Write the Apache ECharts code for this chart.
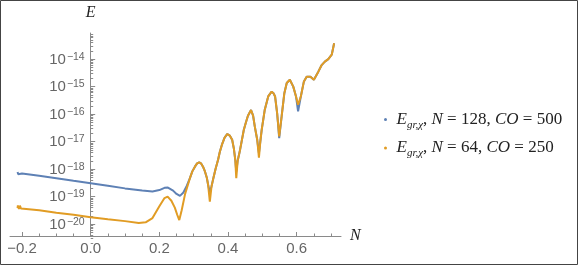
<!DOCTYPE html>
<html><head><meta charset="utf-8">
<script src="https://cdn.jsdelivr.net/npm/echarts@6/dist/echarts.min.js"></script>
<style>html,body{margin:0;padding:0;background:#fff}#c{width:578px;height:265px}</style>
</head><body><div id="c"></div>
<script>
// ---- data ----
const xBluePre   = [-0.213, -0.211, -0.209, -0.2, -0.15, -0.1, -0.05, 0, 0.05, 0.1, 0.15, 0.18, 0.2, 0.215, 0.225, 0.24, 0.25, 0.26, 0.27, 0.28];
const eBluePre   = [7.9e-19, 6.5e-19, 7.6e-19, 6.9e-19, 5.8e-19, 4.7e-19, 3.8e-19, 3.1e-19, 2.5e-19, 2.0e-19, 1.66e-19, 1.55e-19, 1.74e-19, 2.1e-19, 2.14e-19, 1.66e-19, 1.26e-19, 1.07e-19, 1.41e-19, 2.5e-19];
const xOrangePre = [-0.213, -0.212, -0.209, -0.206, -0.203, -0.2, -0.15, -0.1, -0.05, 0, 0.05, 0.1, 0.14, 0.16, 0.18, 0.2, 0.215, 0.224, 0.235, 0.245, 0.252, 0.258, 0.265, 0.275];
const eOrangePre = [3.8e-20, 4.8e-20, 3.6e-20, 4.7e-20, 3.7e-20, 3.8e-20, 3.2e-20, 2.6e-20, 2.2e-20, 1.78e-20, 1.51e-20, 1.29e-20, 1.1e-20, 1.17e-20, 1.66e-20, 4.5e-20, 8.9e-20, 1.0e-19, 7.1e-20, 4.0e-20, 2.2e-20, 1.41e-20, 3.2e-20, 1.26e-19];
const xMain      = [0.289, 0.296, 0.304, 0.310, 0.316, 0.322, 0.328, 0.333, 0.338, 0.342, 0.347, 0.352, 0.356, 0.364, 0.371, 0.376, 0.382, 0.390, 0.398, 0.405, 0.412, 0.417, 0.421, 0.424, 0.428, 0.435, 0.446, 0.452, 0.458, 0.467, 0.473, 0.478, 0.485, 0.490, 0.494, 0.498, 0.507, 0.517, 0.527, 0.533, 0.537, 0.543, 0.549, 0.556, 0.564, 0.571, 0.580, 0.590, 0.598, 0.604, 0.612, 0.621, 0.629, 0.633, 0.640, 0.650, 0.663, 0.672, 0.682, 0.692, 0.702, 0.706, 0.709];
const eBlueMain  = [4.7e-19, 8.3e-19, 1.26e-18, 1.62e-18, 1.78e-18, 1.58e-18, 1.17e-18, 8.1e-19, 5.0e-19, 2.7e-19, 1.41e-19, 2.4e-19, 4.0e-19, 1.05e-18, 2.2e-18, 4.2e-18, 7.6e-18, 1.41e-17, 1.9e-17, 1.66e-17, 1.17e-17, 5.6e-18, 2.24e-18, 8.1e-19, 2.0e-18, 5.0e-18, 2.7e-17, 5.0e-17, 8.7e-17, 1.41e-16, 8.9e-17, 3.5e-17, 1.17e-17, 3.8e-18, 1.0e-17, 2.7e-17, 1.45e-16, 4.4e-16, 6.6e-16, 5.6e-16, 4.4e-16, 1.1e-16, 1.35e-17, 8.1e-17, 5.8e-16, 1.35e-15, 1.78e-15, 1.0e-15, 4.4e-16, 1.26e-16, 4.4e-16, 1.55e-15, 2.3e-15, 2.5e-15, 2.3e-15, 1.78e-15, 3.5e-15, 5.9e-15, 8.1e-15, 1.0e-14, 1.45e-14, 2.5e-14, 3.8e-14];
const eOrangeMain= [4.7e-19, 8.3e-19, 1.26e-18, 1.62e-18, 1.78e-18, 1.58e-18, 1.17e-18, 8.1e-19, 5.0e-19, 2.7e-19, 6.6e-20, 2.4e-19, 4.0e-19, 1.05e-18, 2.2e-18, 4.2e-18, 7.6e-18, 1.41e-17, 1.9e-17, 1.66e-17, 1.17e-17, 5.6e-18, 2.24e-18, 4.7e-19, 2.0e-18, 5.0e-18, 2.7e-17, 5.0e-17, 8.7e-17, 1.41e-16, 8.9e-17, 3.5e-17, 1.17e-17, 2.6e-18, 1.0e-17, 2.7e-17, 1.45e-16, 4.4e-16, 6.6e-16, 5.6e-16, 4.4e-16, 1.1e-16, 1.55e-17, 8.1e-17, 5.8e-16, 1.35e-15, 1.78e-15, 1.0e-15, 4.4e-16, 2.2e-16, 4.4e-16, 1.55e-15, 2.3e-15, 2.5e-15, 2.3e-15, 1.78e-15, 3.5e-15, 5.9e-15, 8.1e-15, 1.0e-14, 1.45e-14, 2.5e-14, 3.8e-14];
const xTickLabels = [-0.2, 0, 0.2, 0.4, 0.6];
const xMinorTicks = [-0.15, -0.1, -0.05, 0.05, 0.1, 0.15, 0.25, 0.3, 0.35, 0.45, 0.5, 0.55, 0.65, 0.7];
const yTickLabels = [1e-20, 1e-19, 1e-18, 1e-17, 1e-16, 1e-15, 1e-14];
const seriesNames = ['N128', 'N64'];
const legendTexts = {
  N128: '{i|E}{sub|gr,χ}{r|, }{i|N}{r| = 128, }{i|CO}{r| = 500}',
  N64:  '{i|E}{sub|gr,χ}{r|, }{i|N}{r| = 64, }{i|CO}{r| = 250}'
};
// ---------------------------------------

const yMinorTicks = [];
for (let k = -21; k <= -14; k++) for (let m = 2; m <= 9; m++) yMinorTicks.push(Number((m + 'e' + k)));

function pairs(xs, es) { return xs.map((x, i) => [x, es[i]]); }
const blueData = pairs(xBluePre, eBluePre).concat(pairs(xMain, eBlueMain));
const orangeData = pairs(xOrangePre, eOrangePre).concat(pairs(xMain, eOrangeMain));

const axisGray = '#8a8a8a';
const labelGray = '#666';
const xMin = -0.235, xMax = 0.729;
const yMin = Math.pow(10, -20.43), yMax = Math.pow(10, -13.05);
const gridLeft = 10, gridRight = 237, W = 578;
// shift the y axis so it sits at x = 0 of the x scale
const yAxisOffset = -((0 - xMin) / (xMax - xMin)) * (W - gridLeft - gridRight);

const chart = echarts.init(document.getElementById('c'), null, {renderer: 'canvas'});
chart.setOption({
  animation: false,
  grid: {left: gridLeft, right: gridRight, top: 33, bottom: 29, containLabel: false, outerBoundsMode: 'none'},
  xAxis: [{
    type: 'value', min: xMin, max: xMax, position: 'bottom',
    splitLine: {show: false},
    axisLine: {show: true, onZero: false, lineStyle: {color: axisGray, width: 1}},
    axisTick: {show: true, inside: true, length: 4, customValues: xTickLabels, lineStyle: {color: axisGray}},
    axisLabel: {customValues: xTickLabels, color: labelGray, fontFamily: 'Liberation Sans', fontSize: 15, margin: 5,
      formatter: v => (v < 0 ? '−' : '') + Math.abs(v).toFixed(1)},
    name: 'N', nameLocation: 'end', nameGap: 9,
    nameTextStyle: {fontFamily: 'Liberation Serif', fontStyle: 'italic', fontSize: 16, color: '#222', verticalAlign: 'middle'}
  }, {
    type: 'value', min: xMin, max: xMax, position: 'bottom',
    splitLine: {show: false}, axisLine: {show: false, onZero: false}, axisLabel: {show: false},
    axisTick: {show: true, inside: true, length: 2.5, customValues: xMinorTicks, lineStyle: {color: axisGray}}
  }],
  yAxis: [{
    type: 'log', logBase: 10, min: yMin, max: yMax, position: 'left', offset: yAxisOffset,
    splitLine: {show: false},
    axisLine: {show: true, onZero: false, lineStyle: {color: axisGray, width: 1}},
    axisTick: {show: true, inside: true, length: 4.5, customValues: yTickLabels, lineStyle: {color: axisGray}},
    axisLabel: {customValues: yTickLabels, margin: 6, color: labelGray,
      formatter: v => '{b|10}{s|−' + (-Math.round(Math.log10(v))) + '}',
      rich: {
        b: {fontFamily: 'Liberation Sans', fontSize: 15, color: labelGray, lineHeight: 16, verticalAlign: 'bottom'},
        s: {fontFamily: 'Liberation Sans', fontSize: 10.5, color: labelGray, lineHeight: 10, verticalAlign: 'top', padding: [0, 0, 9, 1]}
      }},
    name: 'E', nameLocation: 'end', nameGap: 12,
    nameTextStyle: {fontFamily: 'Liberation Serif', fontStyle: 'italic', fontSize: 16, color: '#222', align: 'center'}
  }, {
    type: 'log', logBase: 10, min: yMin, max: yMax, position: 'left', offset: yAxisOffset,
    splitLine: {show: false},
    axisLine: {show: false, onZero: false},
    axisLabel: {show: false},
    axisTick: {show: true, inside: true, length: 2.5, customValues: yMinorTicks, lineStyle: {color: axisGray}}
  }],
  legend: {
    orient: 'vertical', left: 379, top: 106, itemGap: 9,
    itemWidth: 12, itemHeight: 3,
    data: [{name: seriesNames[0], icon: 'circle'}, {name: seriesNames[1], icon: 'circle'}],
    formatter: n => legendTexts[n],
    textStyle: {
      color: '#222',
      rich: {
        i: {fontFamily: 'Liberation Serif', fontStyle: 'italic', fontSize: 17, lineHeight: 22, verticalAlign: 'middle'},
        sub: {fontFamily: 'Liberation Serif', fontStyle: 'italic', fontSize: 11, lineHeight: 22, verticalAlign: 'bottom'},
        r: {fontFamily: 'Liberation Serif', fontSize: 17, lineHeight: 22, verticalAlign: 'middle'}
      }
    }
  },
  series: [{
    name: seriesNames[0], type: 'line', data: blueData, showSymbol: false, symbol: 'none',
    xAxisIndex: 0, yAxisIndex: 0,
    lineStyle: {color: '#5E81B5', width: 2}, itemStyle: {color: '#5E81B5'}
  }, {
    name: seriesNames[1], type: 'line', data: orangeData, showSymbol: false, symbol: 'none',
    xAxisIndex: 0, yAxisIndex: 0,
    lineStyle: {color: '#E19C24', width: 2}, itemStyle: {color: '#E19C24'}
  }],
  graphic: [{
    type: 'rect', shape: {x: 0.5, y: 0.5, width: 577, height: 264}, silent: true,
    style: {fill: 'none', stroke: '#444', lineWidth: 1}
  }]
});
</script>
</body></html>
